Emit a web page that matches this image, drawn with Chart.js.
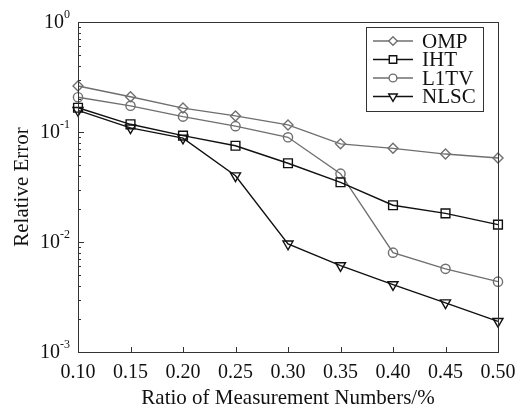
<!DOCTYPE html>
<html>
<head>
<meta charset="utf-8">
<script src="https://cdn.jsdelivr.net/npm/chart.js@4"></script>
<style>
  html, body { margin: 0; padding: 0; background: #fff; }
  #wrap { width: 525px; height: 409px; }
</style>
</head>
<body>
<div id="wrap"><canvas id="errChart" width="525" height="409"></canvas></div>
<script>
// --- data ---
const ratios = ['0.10', '0.15', '0.20', '0.25', '0.30', '0.35', '0.40', '0.45', '0.50'];
const ompErr  = [0.262, 0.209, 0.165, 0.140, 0.116, 0.078, 0.071, 0.063, 0.058];
const ihtErr  = [0.166, 0.1175, 0.0926, 0.075, 0.052, 0.0349, 0.0216, 0.0182, 0.0144];
const l1tvErr = [0.207, 0.173, 0.138, 0.113, 0.0895, 0.0418, 0.0080, 0.0057, 0.00436];
const nlscErr = [0.157, 0.109, 0.088, 0.040, 0.0096, 0.0061, 0.0041, 0.0028, 0.0019];
const yDecades = [1e-3, 1e-2, 1e-1, 1];
const decadeExp = ['-3', '-2', '-1', '0'];

const SERIF = "'Liberation Serif', 'Times New Roman', 'DejaVu Serif', serif";
const GRAY = '#6f6f6f';
const BLACK = '#111111';
const AXIS = '#333333';

function series(label, data, color, style, radius, rotation) {
    return {
        label, data,
        borderColor: color, borderWidth: 1.4,
        pointStyle: style, pointRadius: radius, pointRotation: rotation || 0,
        pointBorderColor: color, pointBorderWidth: 1.4,
        pointBackgroundColor: 'rgba(0,0,0,0)',
        tension: 0, fill: false
    };
}

// --- axes decorations, titles and boxed legend ---
const decorations = {
    id: 'decorations',
    afterDraw(chart) {
        const { ctx, chartArea: a, scales } = chart;
        const xs = scales.x, ys = scales.y;
        ctx.save();
        // frame (top + right)
        ctx.strokeStyle = AXIS;
        ctx.lineWidth = 1;
        ctx.strokeRect(a.left + 0.5, a.top + 0.5, a.right - a.left, a.bottom - a.top);

        // y ticks: majors and minors, pointing inward
        ctx.beginPath();
        for (let d = 0; d < yDecades.length; d++) {
            const base = yDecades[d];
            const py = Math.round(ys.getPixelForValue(base)) + 0.5;
            ctx.moveTo(a.left, py); ctx.lineTo(a.left + 6, py);
            if (base < 1) {
                for (let m = 2; m <= 9; m++) {
                    const my = Math.round(ys.getPixelForValue(base * m)) + 0.5;
                    ctx.moveTo(a.left, my); ctx.lineTo(a.left + 3, my);
                }
            }
        }
        // x ticks, pointing inward
        for (let i = 1; i < ratios.length - 1; i++) {
            const px = Math.round(xs.getPixelForValue(i)) + 0.5;
            ctx.moveTo(px, a.bottom); ctx.lineTo(px, a.bottom - 5);
        }
        ctx.stroke();

        // y tick labels 10^n
        ctx.fillStyle = BLACK;
        ctx.textBaseline = 'middle';
        for (let d = 0; d < yDecades.length; d++) {
            const py = ys.getPixelForValue(yDecades[d]);
            ctx.font = '12px ' + SERIF;
            const ew = ctx.measureText(decadeExp[d]).width;
            const ex = a.left - 8 - ew;
            ctx.textAlign = 'left';
            ctx.fillText(decadeExp[d], ex, py - 7);
            ctx.font = '20px ' + SERIF;
            ctx.textAlign = 'right';
            ctx.fillText('10', ex, py + 1);
        }

        // axis titles
        ctx.font = '21px ' + SERIF;
        ctx.textAlign = 'center';
        ctx.fillText('Ratio of Measurement Numbers/%', (a.left + a.right) / 2, 398);
        ctx.save();
        ctx.translate(22, (a.top + a.bottom) / 2);
        ctx.rotate(-Math.PI / 2);
        ctx.fillText('Relative Error', 0, 0);
        ctx.restore();

        // legend box
        const lx = 366, ly = 27, lw = 117, lh = 84;
        ctx.fillStyle = '#fff';
        ctx.fillRect(lx, ly, lw, lh);
        ctx.strokeStyle = AXIS;
        ctx.strokeRect(lx + 0.5, ly + 0.5, lw, lh);
        chart.data.datasets.forEach((ds, i) => {
            const ry = ly + 14 + i * 18.5;
            ctx.strokeStyle = ds.borderColor;
            ctx.lineWidth = ds.borderWidth;
            ctx.beginPath();
            ctx.moveTo(lx + 7, ry); ctx.lineTo(lx + 47, ry);
            ctx.stroke();
            ctx.fillStyle = '#fff';
            Chart.helpers.drawPoint(ctx, {
                pointStyle: ds.pointStyle, rotation: ds.pointRotation,
                radius: ds.pointRadius * 0.85, borderWidth: ds.pointBorderWidth
            }, lx + 27, ry);
            ctx.fillStyle = BLACK;
            ctx.font = '21px ' + SERIF;
            ctx.textAlign = 'left';
            ctx.fillText(ds.label, lx + 56, ry + 1);
        });
        ctx.restore();
    }
};

const ctx = document.getElementById('errChart').getContext('2d');
const errChart = new Chart(ctx, {
    type: 'line',
    data: {
        labels: ratios,
        datasets: [
            series('OMP', ompErr, GRAY, 'rectRot', 5),
            series('IHT', ihtErr, BLACK, 'rect', 6.2),
            series('L1TV', l1tvErr, GRAY, 'circle', 4.6),
            series('NLSC', nlscErr, BLACK, 'triangle', 5.8, 180)
        ]
    },
    options: {
        responsive: false,
        animation: false,
        layout: { padding: { top: 22, right: 27, left: 0, bottom: 0 } },
        scales: {
            x: {
                type: 'category',
                offset: false,
                grid: { display: false, drawTicks: false },
                border: { display: true, color: AXIS, width: 1 },
                ticks: {
                    color: BLACK, padding: 9, maxRotation: 0, autoSkip: false,
                    font: { family: SERIF, size: 20 }
                },
                afterFit(scale) { scale.height = 57; }
            },
            y: {
                type: 'logarithmic',
                min: 1e-3, max: 1,
                grid: { display: false, drawTicks: false },
                border: { display: true, color: AXIS, width: 1 },
                ticks: { display: false },
                afterFit(scale) { scale.width = 78; }
            }
        },
        plugins: {
            legend: { display: false },
            tooltip: { enabled: false }
        }
    },
    plugins: [decorations]
});
if (document.fonts && document.fonts.ready) {
    document.fonts.ready.then(() => errChart.update());
}
</script>
</body>
</html>
